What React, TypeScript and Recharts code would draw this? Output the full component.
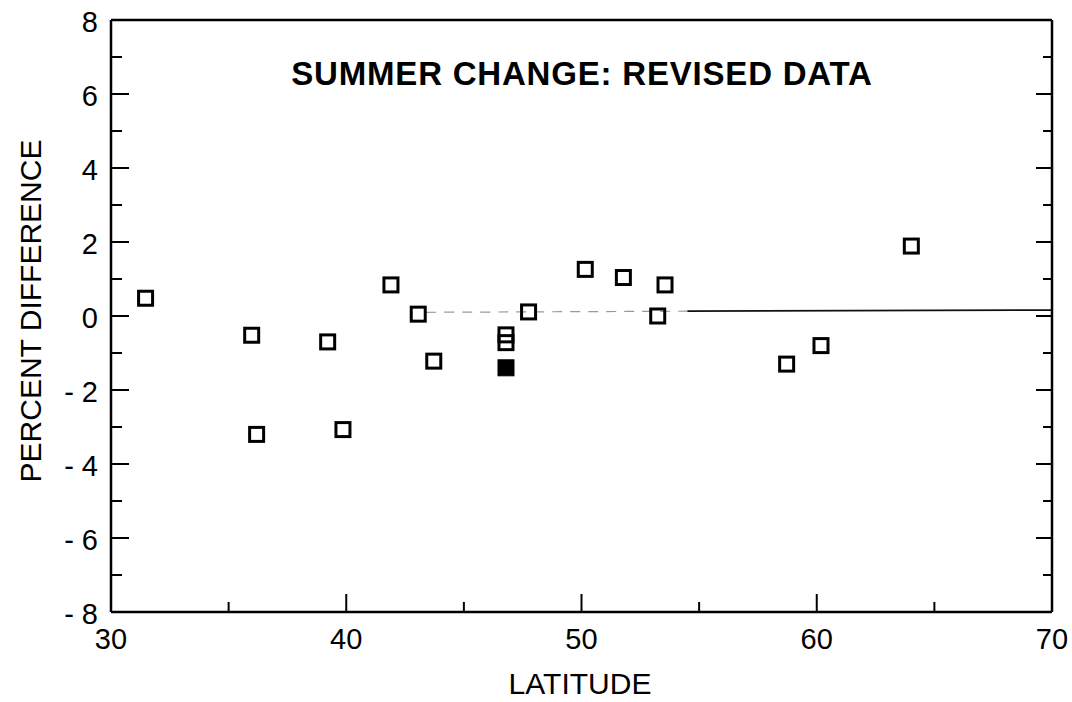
import React from 'react';
import { ScatterChart, Scatter, XAxis, YAxis, ReferenceLine } from 'recharts';

// Data
const latitudes = [31.47, 35.98, 36.19, 39.21, 39.86, 41.9, 43.06, 43.72, 46.79, 46.79, 47.75, 50.16, 51.78, 53.24, 53.55, 58.72, 60.18, 64.02];
const percentDiff = [0.48, -0.52, -3.2, -0.7, -3.07, 0.84, 0.05, -1.22, -0.51, -0.72, 0.11, 1.26, 1.04, 0.0, 0.84, -1.3, -0.8, 1.89];
const filledLat = [46.79];
const filledDiff = [-1.4];
const fitLat = [43.4, 54.5, 70];
const fitDiff = [0.1, 0.13, 0.16];

const xTicks = [30, 35, 40, 45, 50, 55, 60, 65, 70];
const xLabels = [30, 40, 50, 60, 70];
const yTicks = [-8, -7, -6, -5, -4, -3, -2, -1, 0, 1, 2, 3, 4, 5, 6, 7, 8];
const yLabels = [-8, -6, -4, -2, 0, 2, 4, 6, 8];

const title = 'SUMMER CHANGE: REVISED DATA';
const xTitle = 'LATITUDE';
const yTitle = 'PERCENT DIFFERENCE';

const FONT = '"Liberation Sans", Arial, Helvetica, sans-serif';

const openData = latitudes.map((lat, i) => ({ lat, diff: percentDiff[i] }));
const filledData = filledLat.map((lat, i) => ({ lat, diff: filledDiff[i] }));

const fmtY = (v: number) => (v < 0 ? `- ${Math.abs(v)}` : `${v}`);

const BottomTick = (props: any) => {
  const { x, y, payload } = props;
  const v = payload.value;
  const major = xLabels.includes(v);
  return (
    <g>
      <line x1={x} x2={x} y1={y} y2={y - (major ? 18 : 10)} stroke="#000" strokeWidth={2} />
      {major && (
        <text x={x} y={y + 37} textAnchor="middle" fontSize={29} fontFamily={FONT} fill="#000">
          {v}
        </text>
      )}
    </g>
  );
};

const TopTick = (props: any) => {
  const { x, y, payload } = props;
  const major = xLabels.includes(payload.value);
  return <line x1={x} x2={x} y1={y} y2={y + (major ? 17 : 9)} stroke="#000" strokeWidth={2} />;
};

const LeftTick = (props: any) => {
  const { x, y, payload } = props;
  const v = payload.value;
  const major = yLabels.includes(v);
  return (
    <g>
      <line x1={x} x2={x + (major ? 18 : 11)} y1={y} y2={y} stroke="#000" strokeWidth={2} />
      {major && (
        <text x={x - 13} y={y + 12} textAnchor="end" fontSize={29} fontFamily={FONT} fill="#000">
          {fmtY(v)}
        </text>
      )}
    </g>
  );
};

const RightTick = (props: any) => {
  const { x, y, payload } = props;
  const major = yLabels.includes(payload.value);
  return <line x1={x} x2={x - (major ? 16 : 9)} y1={y} y2={y} stroke="#000" strokeWidth={2} />;
};

const OpenSquare = (props: any) => {
  const { cx, cy } = props;
  return <rect x={cx - 7} y={cy - 7} width={14} height={14} fill="none" stroke="#000" strokeWidth={3} />;
};

const FilledSquare = (props: any) => {
  const { cx, cy } = props;
  return <rect x={cx - 8} y={cy - 8} width={16} height={16} fill="#000" stroke="#000" strokeWidth={1} />;
};

const axisLine = { stroke: '#000', strokeWidth: 2.5 };

export default function App() {
  return (
    <div style={{ position: 'absolute', left: 0, top: 0, width: 1072, height: 702, background: '#fff' }}>
      <ScatterChart width={1072} height={702} margin={{ top: 0, right: 0, bottom: 0, left: 0 }}>
        <XAxis
          xAxisId={0}
          type="number"
          dataKey="lat"
          domain={[30, 70]}
          ticks={xTicks}
          interval={0}
          height={90}
          tickSize={0}
          tickMargin={0}
          tickLine={false}
          axisLine={axisLine}
          tick={<BottomTick />}
          allowDataOverflow
        />
        <XAxis
          xAxisId="top"
          orientation="top"
          type="number"
          domain={[30, 70]}
          ticks={xTicks}
          interval={0}
          height={20}
          tickSize={0}
          tickMargin={0}
          tickLine={false}
          axisLine={axisLine}
          tick={<TopTick />}
          allowDataOverflow
        />
        <YAxis
          yAxisId={0}
          type="number"
          dataKey="diff"
          domain={[-8, 8]}
          ticks={yTicks}
          interval={0}
          width={111}
          tickSize={0}
          tickMargin={0}
          tickLine={false}
          axisLine={axisLine}
          tick={<LeftTick />}
          allowDataOverflow
        />
        <YAxis
          yAxisId="right"
          orientation="right"
          type="number"
          domain={[-8, 8]}
          ticks={yTicks}
          interval={0}
          width={20}
          tickSize={0}
          tickMargin={0}
          tickLine={false}
          axisLine={axisLine}
          tick={<RightTick />}
          allowDataOverflow
        />
        <ReferenceLine
          xAxisId={0}
          yAxisId={0}
          segment={[{ x: fitLat[0], y: fitDiff[0] }, { x: fitLat[1], y: fitDiff[1] }]}
          stroke="#999"
          strokeWidth={1.2}
          strokeDasharray="10 8"
        />
        <ReferenceLine
          xAxisId={0}
          yAxisId={0}
          segment={[{ x: fitLat[1], y: fitDiff[1] }, { x: fitLat[2], y: fitDiff[2] }]}
          stroke="#111"
          strokeWidth={1.8}
        />
        <Scatter xAxisId={0} yAxisId={0} data={openData} shape={<OpenSquare />} isAnimationActive={false} />
        <Scatter xAxisId={0} yAxisId={0} data={filledData} shape={<FilledSquare />} isAnimationActive={false} />
      </ScatterChart>
      <svg
        width={1072}
        height={702}
        style={{ position: 'absolute', left: 0, top: 0, pointerEvents: 'none' }}
      >
        <text x={582} y={85} textAnchor="middle" fontSize={33} fontWeight="bold" letterSpacing={0.8} fontFamily={FONT} fill="#000">
          {title}
        </text>
        <text x={580} y={694} textAnchor="middle" fontSize={30} fontFamily={FONT} fill="#000">
          {xTitle}
        </text>
        <text x={41} y={311} textAnchor="middle" fontSize={30} fontFamily={FONT} fill="#000" transform="rotate(-90 41 311)">
          {yTitle}
        </text>
      </svg>
    </div>
  );
}
